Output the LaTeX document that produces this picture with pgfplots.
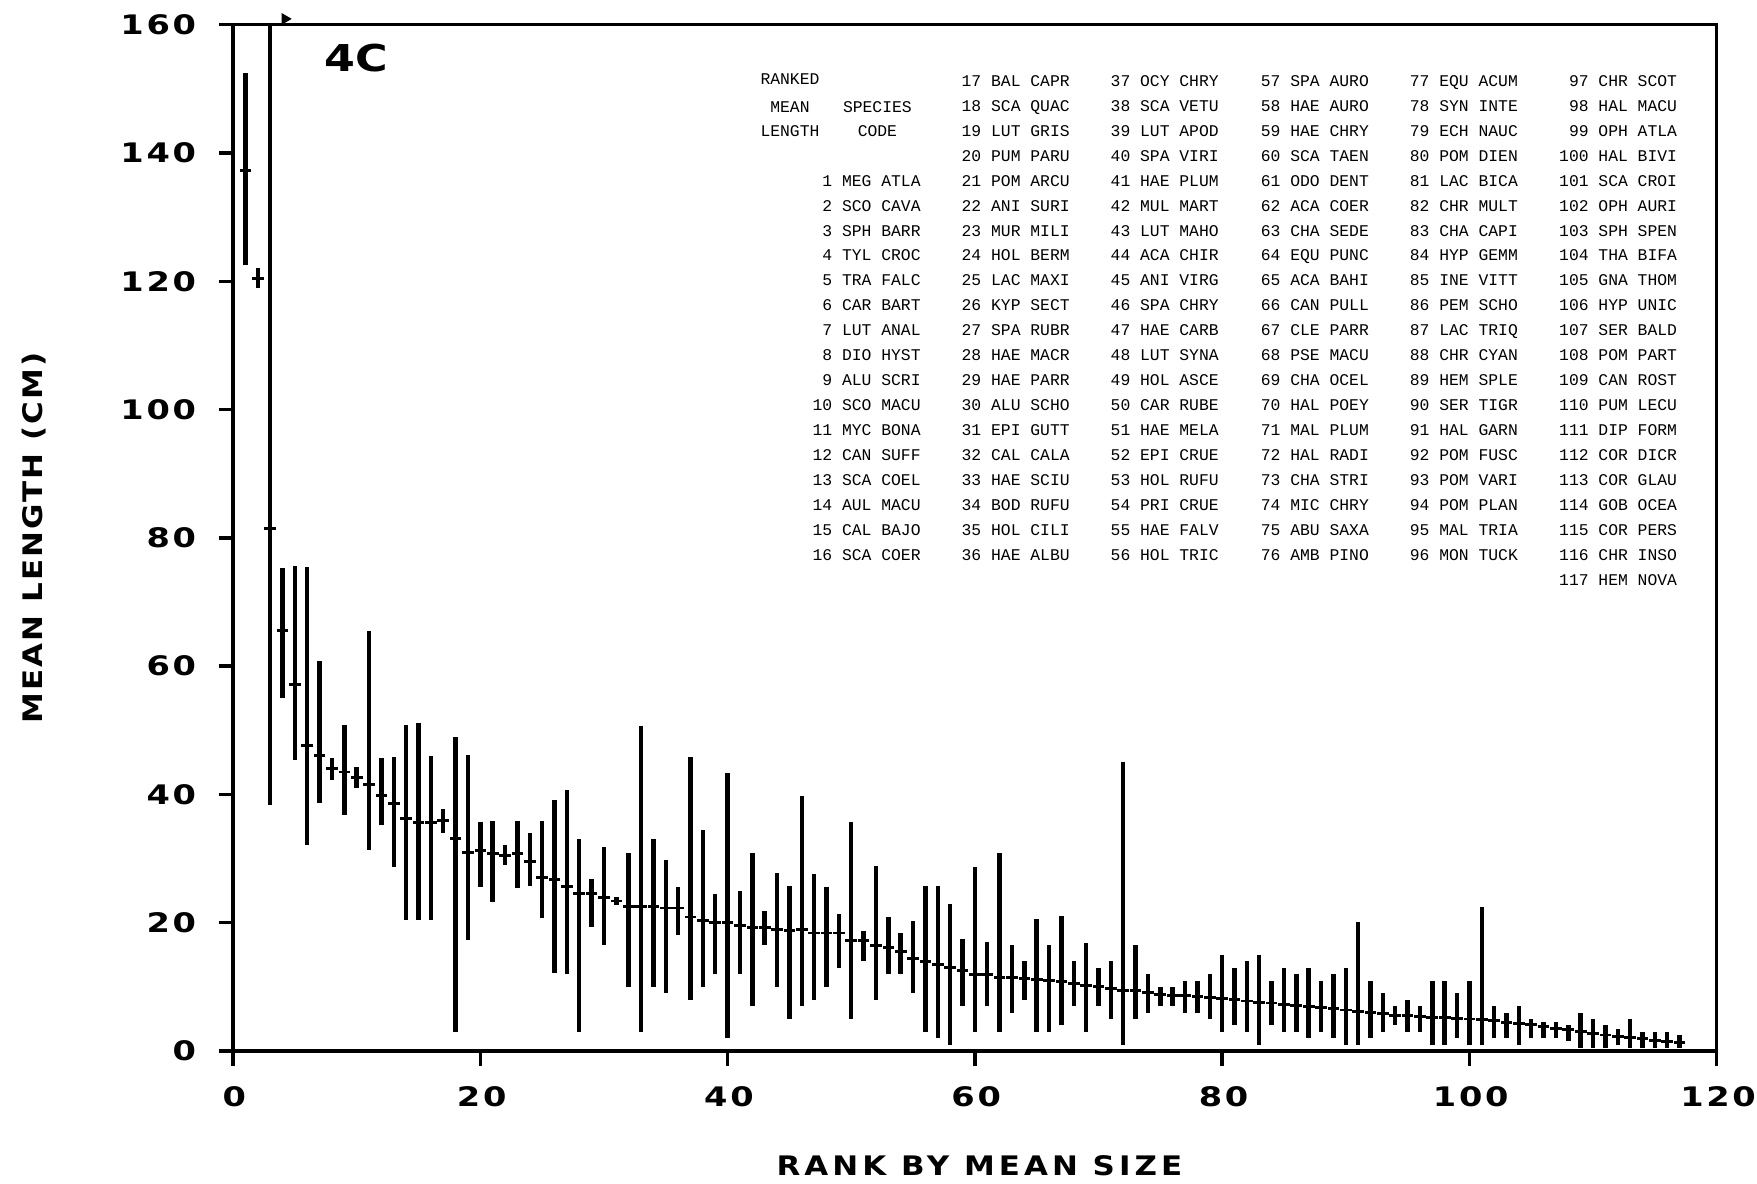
\documentclass[border=0pt]{standalone}
\usepackage{fontspec}
\usepackage{pgfplots}
\usepackage{pgfplotstable}
\pgfplotsset{compat=1.18}
\setmainfont{DejaVu Sans}
\setmonofont{Liberation Mono}
\newfontfamily\tickfont[FakeStretch=1.25, LetterSpace=10]{DejaVu Sans}
\newfontfamily\ylabfont[FakeStretch=1.15, LetterSpace=8]{DejaVu Sans}
\newfontfamily\xlabfont[FakeStretch=1.15, LetterSpace=15]{DejaVu Sans}
\newfontfamily\panelfont[FakeStretch=1.2]{DejaVu Sans}

% rank, lower end, mean, upper end (cm)
\pgfplotstableread{
r lo m hi
1 122.5 137.3 152.4
2 119 120.5 122
3 38.3 81.5 160
4 55.0 65.6 75.3
5 45.4 57.2 75.6
6 32.1 47.7 75.5
7 38.7 46.1 60.8
8 42.2 44.0 45.7
9 36.8 43.5 50.8
10 41.0 42.6 44.3
11 31.3 41.6 65.5
12 35.2 39.9 45.7
13 28.7 38.6 45.8
14 20.4 36.2 50.8
15 20.4 35.7 51.1
16 20.4 35.7 46.0
17 34.0 35.9 37.8
18 3.0 33.2 48.9
19 17.3 31.0 46.1
20 25.6 31.2 35.7
21 23.2 30.8 35.8
22 29.0 30.5 32.1
23 25.4 30.8 35.8
24 25.7 29.5 34.0
25 20.7 27.1 35.9
26 12.2 26.8 39.1
27 12.0 25.7 40.7
28 3.0 24.6 33.0
29 19.3 24.6 26.8
30 16.5 23.9 31.8
31 22.8 23.4 24.0
32 10.0 22.6 30.9
33 3.0 22.6 50.7
34 10.0 22.6 33.0
35 9.0 22.3 29.8
36 18.1 22.3 25.6
37 8.0 20.9 45.8
38 10.0 20.4 34.4
39 12.0 20.1 24.5
40 2.0 20.0 43.3
41 12.0 19.6 24.9
42 7.0 19.2 30.9
43 16.5 19.2 21.8
44 10.0 18.9 27.7
45 5.0 18.8 25.7
46 7.0 18.9 39.7
47 8.0 18.4 27.6
48 10.0 18.4 25.6
49 13.0 18.4 21.3
50 5.0 17.3 35.7
51 14.0 17.3 18.7
52 8.0 16.5 28.8
53 12.0 16.2 20.9
54 12.0 15.5 18.4
55 9.0 14.5 20.3
56 3.0 14.0 25.7
57 2.0 13.5 25.7
58 1.0 13.0 22.9
59 7.0 12.5 17.5
60 3.0 12.0 28.7
61 7.0 12.0 17.0
62 3.0 11.5 30.9
63 6.0 11.5 16.5
64 8.0 11.3 14.0
65 3.0 11.2 20.6
66 3.0 11.0 16.5
67 4.0 10.8 21.0
68 7.0 10.5 14.0
69 3.0 10.2 16.9
70 7.0 10.0 13.0
71 5.0 9.8 14.0
72 1.0 9.5 45.0
73 5.0 9.5 16.5
74 6.0 9.2 12.0
75 7.0 8.8 10.0
76 7.0 8.7 10.0
77 6.0 8.6 11.0
78 6.0 8.5 11.0
79 5.0 8.3 12.0
80 3.0 8.2 15.0
81 4.0 8.0 13.0
82 3.0 7.8 14.0
83 1.0 7.6 15.0
84 4.0 7.5 11.0
85 3.0 7.3 13.0
86 3.0 7.1 12.0
87 2.0 7.0 13.0
88 3.0 6.8 11.0
89 2.0 6.6 12.0
90 1.0 6.4 13.0
91 1.0 6.2 20.1
92 2.0 6.0 11.0
93 3.0 5.8 9.0
94 4.0 5.6 7.0
95 3.0 5.5 8.0
96 3.0 5.4 7.0
97 1.0 5.3 11.0
98 1.0 5.2 11.0
99 2.0 5.1 9.0
100 1.0 5.0 11.0
101 1.0 4.9 22.4
102 2.0 4.7 7.0
103 2.0 4.5 6.0
104 1.0 4.3 7.0
105 2.0 4.1 5.0
106 2.0 3.8 4.5
107 2.0 3.5 4.5
108 1.5 3.3 4.0
109 0.5 3.0 6.0
110 0.5 2.8 5.0
111 0.5 2.5 4.0
112 1.0 2.3 3.5
113 0.5 2.1 5.0
114 0.5 1.9 3.0
115 0.5 1.7 3.0
116 0.5 1.5 3.0
117 0.5 1.4 2.5
}\ranks

\begin{document}
\begin{tikzpicture}
\useasboundingbox (-104pt,-59.3pt) rectangle (680pt,469pt);
\begin{axis}[
    at={(0pt,0pt)}, anchor=south west,
    scale only axis,
    width=662pt, height=458pt,
    xmin=0, xmax=120, ymin=0, ymax=160,
    xtick={0,20,...,120}, ytick={0,20,...,160},
    tick align=outside,
    xtick pos=bottom, ytick pos=left,
    major tick length=6.5pt,
    axis line style={line width=1.5pt},
    every tick/.style={line width=1.5pt, black},
    /pgf/number format/assume math mode=true,
    yticklabel style={font=\tickfont\bfseries\fontsize{12}{13}\selectfont, xshift=-6.5pt},
    xticklabel style={font=\tickfont\bfseries\fontsize{12}{13}\selectfont, yshift=-6pt, xshift=0.6pt},
    clip=false,
]
\addplot[black, only marks, mark=-, mark size=2.6pt,
    mark options={line width=1.3pt},
    error bars/.cd, y dir=both, y explicit, error mark=none,
    error bar style={line width=2pt, black}]
    table[x=r, y=m,
      y error plus expr=\thisrow{hi}-\thisrow{m},
      y error minus expr=\thisrow{m}-\thisrow{lo}] {\ranks};
% off-scale marker on rank 3
\addplot[black, only marks, mark=triangle*, mark size=2.6pt,
    mark options={rotate=-90}] coordinates {(4.2,160.9)};
\node[font=\panelfont\bfseries\fontsize{16.5}{17}\selectfont] at (axis cs:10,154.8) {4C};
\end{axis}

% axis titles
\node[rotate=90, font=\ylabfont\bfseries\fontsize{12}{13}\selectfont] at (-89pt,229pt) {MEAN LENGTH (CM)};
\node[font=\xlabfont\bfseries\fontsize{12}{13}\selectfont] at (333pt,-51pt) {RANK BY MEAN SIZE};

% species code key
\tikzset{key/.style={font=\ttfamily\fontsize{7.3}{8}\selectfont, inner sep=0pt}}
\node[key, anchor=base] at (248.5pt,431.5pt) {RANKED};
\node[key, anchor=base] at (248.5pt,419pt) {MEAN};
\node[key, anchor=base] at (248.5pt,408pt) {LENGTH};
\node[key, anchor=base] at (287.5pt,419pt) {SPECIES};
\node[key, anchor=base] at (287.5pt,408pt) {CODE};
\foreach \t [count=\i from 4] in {1 MEG ATLA,2 SCO CAVA,3 SPH BARR,4 TYL CROC,5 TRA FALC,6 CAR BART,7 LUT ANAL,8 DIO HYST,9 ALU SCRI,10 SCO MACU,11 MYC BONA,12 CAN SUFF,13 SCA COEL,14 AUL MACU,15 CAL BAJO,16 SCA COER}
  \node[key, anchor=base east] at (307pt,{430.5pt-11.135pt*\i}) {\t};
\foreach \t [count=\i from 0] in {17 BAL CAPR,18 SCA QUAC,19 LUT GRIS,20 PUM PARU,21 POM ARCU,22 ANI SURI,23 MUR MILI,24 HOL BERM,25 LAC MAXI,26 KYP SECT,27 SPA RUBR,28 HAE MACR,29 HAE PARR,30 ALU SCHO,31 EPI GUTT,32 CAL CALA,33 HAE SCIU,34 BOD RUFU,35 HOL CILI,36 HAE ALBU}
  \node[key, anchor=base east] at (373.5pt,{430.5pt-11.135pt*\i}) {\t};
\foreach \t [count=\i from 0] in {37 OCY CHRY,38 SCA VETU,39 LUT APOD,40 SPA VIRI,41 HAE PLUM,42 MUL MART,43 LUT MAHO,44 ACA CHIR,45 ANI VIRG,46 SPA CHRY,47 HAE CARB,48 LUT SYNA,49 HOL ASCE,50 CAR RUBE,51 HAE MELA,52 EPI CRUE,53 HOL RUFU,54 PRI CRUE,55 HAE FALV,56 HOL TRIC}
  \node[key, anchor=base east] at (440pt,{430.5pt-11.135pt*\i}) {\t};
\foreach \t [count=\i from 0] in {57 SPA AURO,58 HAE AURO,59 HAE CHRY,60 SCA TAEN,61 ODO DENT,62 ACA COER,63 CHA SEDE,64 EQU PUNC,65 ACA BAHI,66 CAN PULL,67 CLE PARR,68 PSE MACU,69 CHA OCEL,70 HAL POEY,71 MAL PLUM,72 HAL RADI,73 CHA STRI,74 MIC CHRY,75 ABU SAXA,76 AMB PINO}
  \node[key, anchor=base east] at (507pt,{430.5pt-11.135pt*\i}) {\t};
\foreach \t [count=\i from 0] in {77 EQU ACUM,78 SYN INTE,79 ECH NAUC,80 POM DIEN,81 LAC BICA,82 CHR MULT,83 CHA CAPI,84 HYP GEMM,85 INE VITT,86 PEM SCHO,87 LAC TRIQ,88 CHR CYAN,89 HEM SPLE,90 SER TIGR,91 HAL GARN,92 POM FUSC,93 POM VARI,94 POM PLAN,95 MAL TRIA,96 MON TUCK}
  \node[key, anchor=base east] at (573.5pt,{430.5pt-11.135pt*\i}) {\t};
\foreach \t [count=\i from 0] in {97 CHR SCOT,98 HAL MACU,99 OPH ATLA,100 HAL BIVI,101 SCA CROI,102 OPH AURI,103 SPH SPEN,104 THA BIFA,105 GNA THOM,106 HYP UNIC,107 SER BALD,108 POM PART,109 CAN ROST,110 PUM LECU,111 DIP FORM,112 COR DICR,113 COR GLAU,114 GOB OCEA,115 COR PERS,116 CHR INSO,117 HEM NOVA}
  \node[key, anchor=base east] at (644.5pt,{430.5pt-11.135pt*\i}) {\t};
\end{tikzpicture}
\end{document}
